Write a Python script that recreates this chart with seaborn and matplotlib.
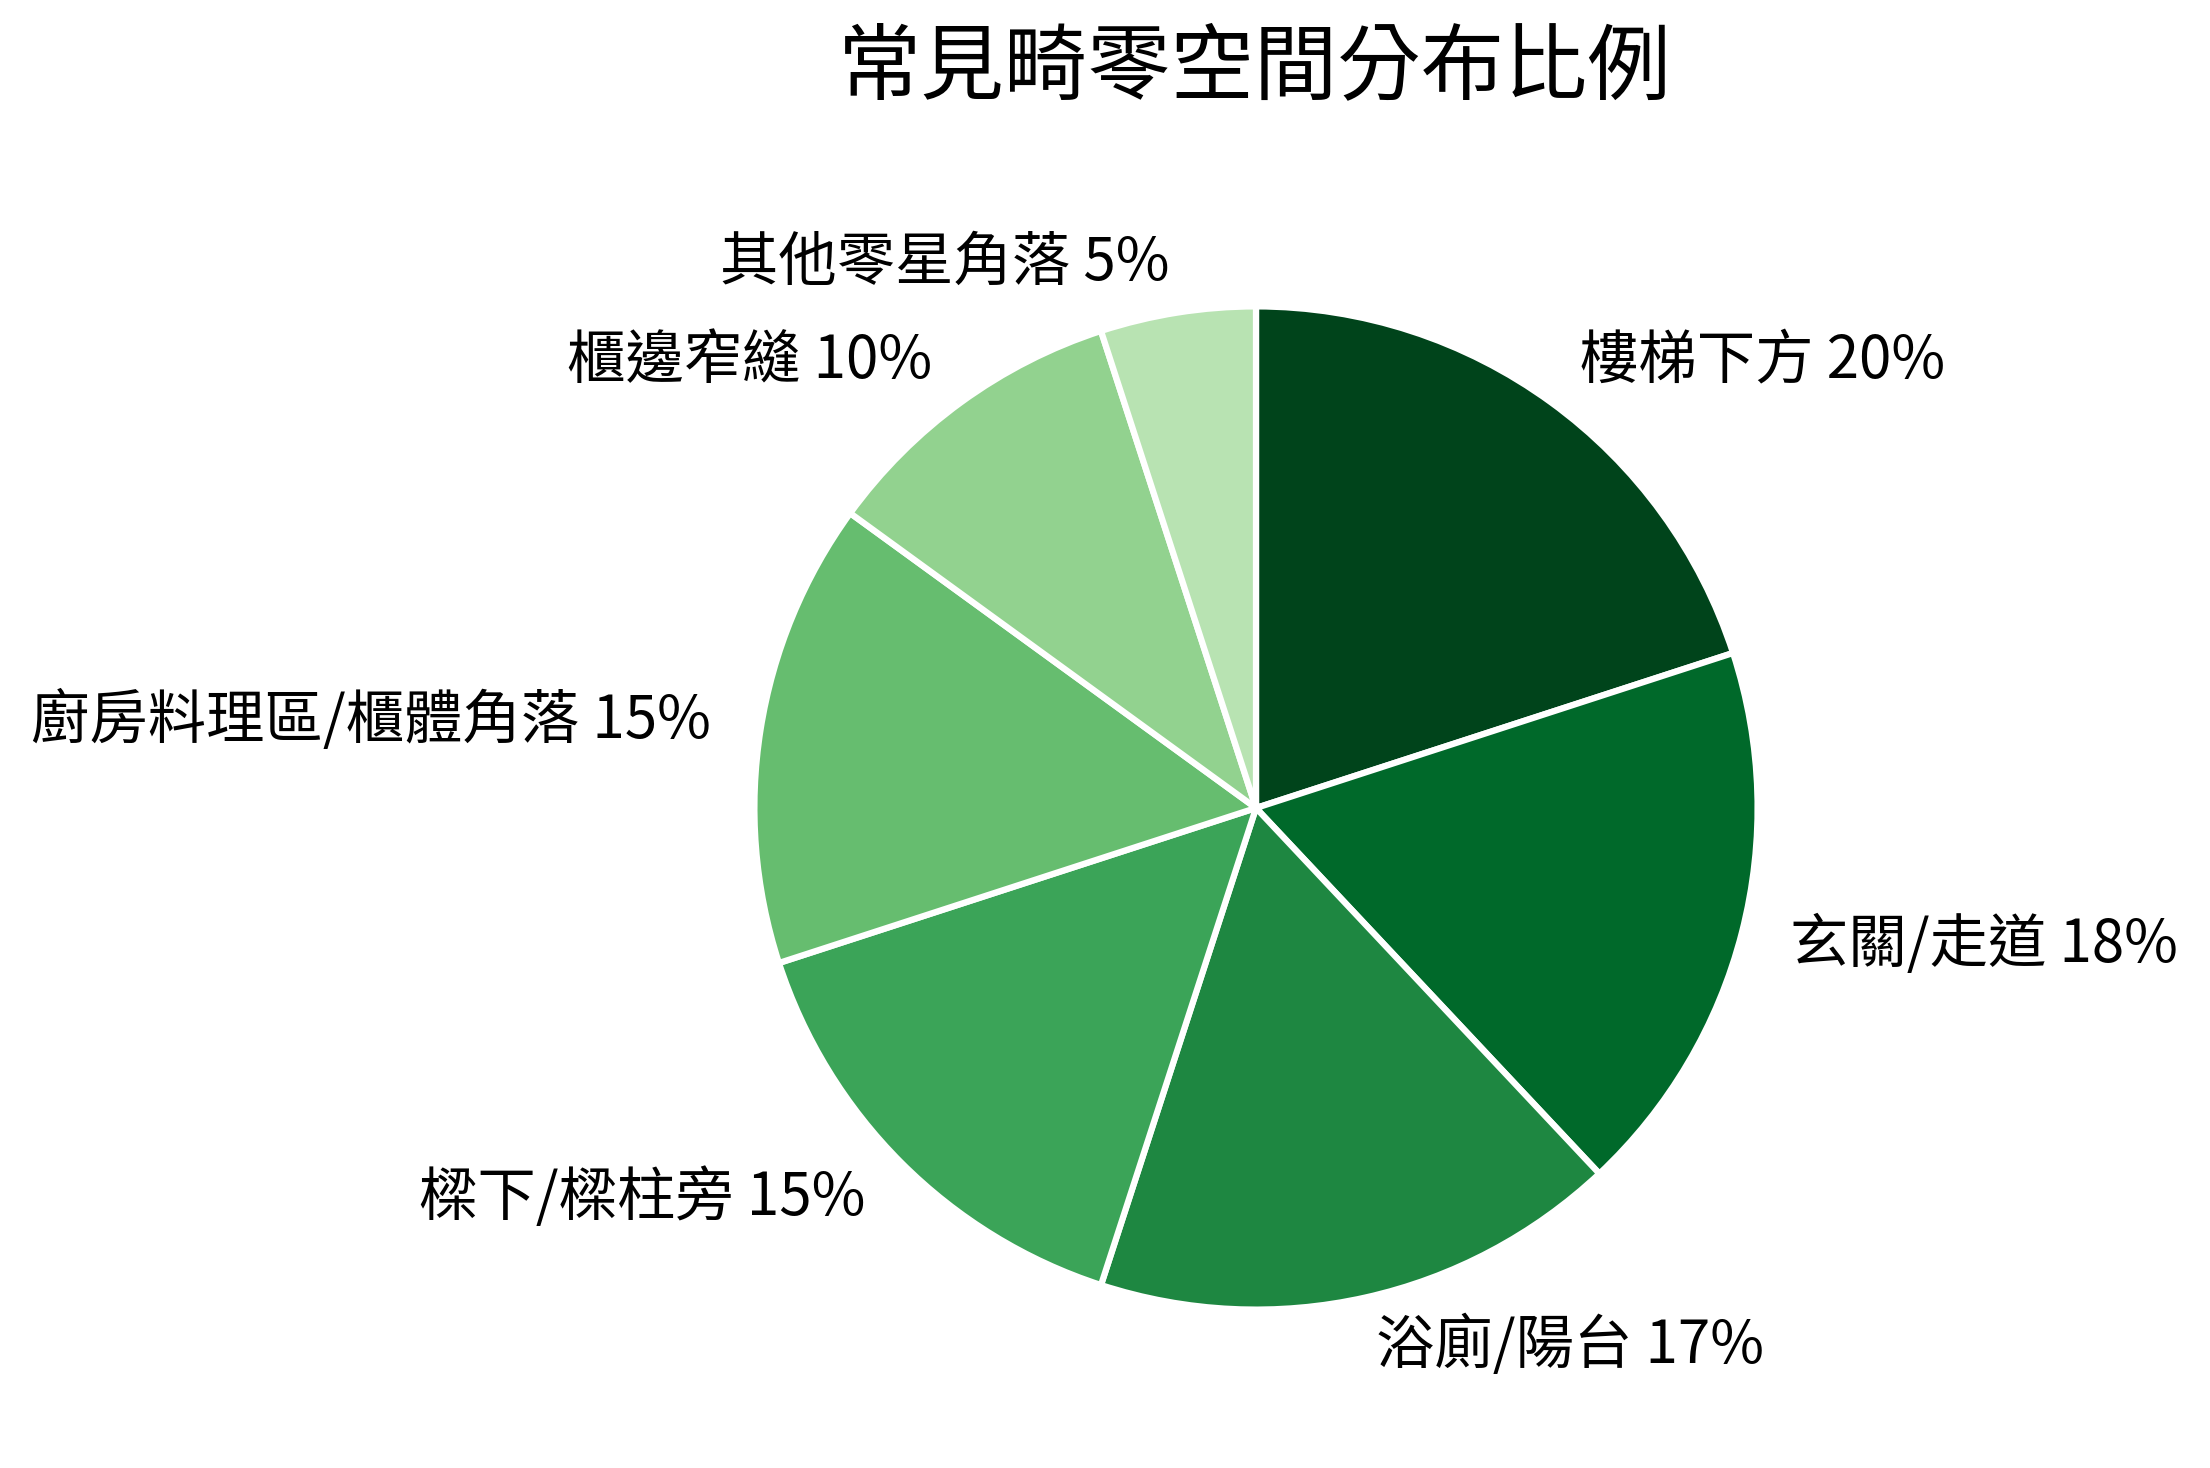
import matplotlib
matplotlib.use("Agg")
import matplotlib.pyplot as plt
import seaborn as sns
import numpy as np

categories = ["樓梯下方", "玄關/走道", "浴廁/陽台", "樑下/樑柱旁",
              "廚房料理區/櫃體角落", "櫃邊窄縫", "其他零星角落"]
values = [20, 18, 17, 15, 15, 10, 5]
title = "常見畸零空間分布比例"

sns.set_theme(style="white")
plt.rcParams['font.family'] = ['Noto Sans CJK TC', 'DejaVu Sans']

cmap = matplotlib.colormaps["Greens"]
colors = [cmap(p) for p in np.linspace(1.0, 0.3, len(values))]

labels = [f"{c} {v}%" for c, v in zip(categories, values)]

fig = plt.figure(figsize=(2210/300, 1468/300), dpi=300)
fig.patch.set_facecolor("white")
ax = fig.add_axes([629/2210, 33/1468, 1254/2210, 1254/1468])
ax.pie(values, labels=labels, colors=colors, startangle=90, counterclock=False,
       labeldistance=1.1,
       wedgeprops=dict(edgecolor="white", linewidth=1.5),
       textprops=dict(fontsize=14, color="black"))
ax.set_aspect("equal")
fig.text(1255/2210, 1 - 68/1468, title, ha="center", va="center", fontsize=20, color="black")
fig.savefig("out.png", dpi=300, facecolor="white")
